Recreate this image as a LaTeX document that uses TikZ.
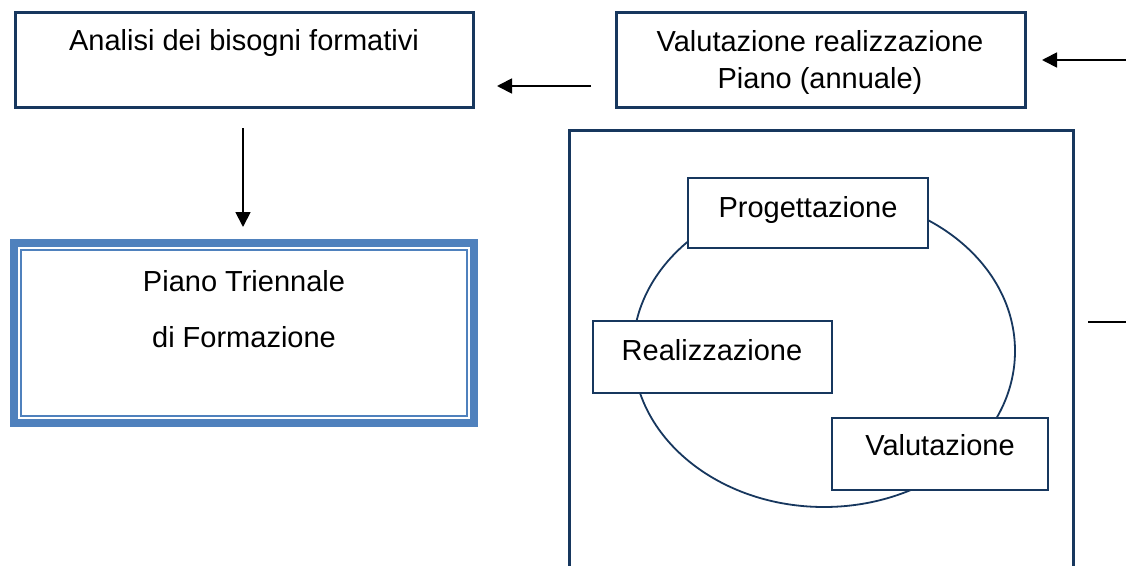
\documentclass[tikz,border=0pt]{standalone}
\usepackage{fontspec}
\setmainfont{Liberation Sans}
\usetikzlibrary{arrows.meta}
\definecolor{dkblue}{RGB}{23,55,94}
\definecolor{ltblue}{RGB}{79,129,189}
\begin{document}
\begin{tikzpicture}[x=1pt,y=-1pt,
  txt/.style={font=\fontsize{29}{34}\selectfont, inner sep=0pt, anchor=base},
  bigbox/.style={draw=dkblue, line width=3pt},
  smallbox/.style={draw=dkblue, line width=1.8pt, fill=white},
  arr/.style={line width=1.8pt, -{Triangle[length=15pt,width=15pt]}},
  plain/.style={line width=1.8pt}]
\useasboundingbox (0,0) rectangle (1126,565);
\fill[white] (0,0) rectangle (1126,565);
% Top-left box
\draw[bigbox] (15,12) rectangle (473,107);
\node[txt] (analisi) at (244,50) {Analisi dei bisogni formativi};
% Top-right box
\draw[bigbox] (616,12) rectangle (1025,107);
\node[txt] (val1) at (820,51) {Valutazione realizzazione};
\node[txt] (val2) at (820,88) {Piano (annuale)};
% Piano triennale box
\draw[draw=ltblue, line width=8pt] (14,243) rectangle (474,423);
\draw[draw=ltblue, line width=2pt] (21,250) rectangle (467,416);
\node[txt] (piano1) at (244,291) {Piano Triennale};
\node[txt] (piano2) at (244,347) {di Formazione};
% Large frame
\draw[bigbox] (569,580) -- (569,130) -- (1073,130) -- (1073,580);
% Ellipse
\draw[draw=dkblue, line width=1.8pt] (824,351) ellipse [x radius=191, y radius=156];
% Small boxes
\draw[smallbox] (688,178) rectangle (928,248);
\node[txt] (prog) at (808,217) {Progettazione};
\draw[smallbox] (593,321) rectangle (832,393);
\node[txt] (real) at (712,360) {Realizzazione};
\draw[smallbox] (832,418) rectangle (1048,490);
\node[txt] (valu) at (940,455) {Valutazione};
% Connectors
\coordinate (c1s) at (243,128); \coordinate (c1e) at (243,227);
\draw[arr] (c1s) -- (c1e);
\coordinate (c2s) at (591,86); \coordinate (c2e) at (497,86);
\draw[arr] (c2s) -- (c2e);
\coordinate (c3s) at (1126,60); \coordinate (c3e) at (1042,60);
\draw[arr] (c3s) -- (c3e);
\coordinate (c4s) at (1088,322); \coordinate (c4e) at (1126,322);
\draw[plain] (c4s) -- (c4e);
\end{tikzpicture}
\end{document}
